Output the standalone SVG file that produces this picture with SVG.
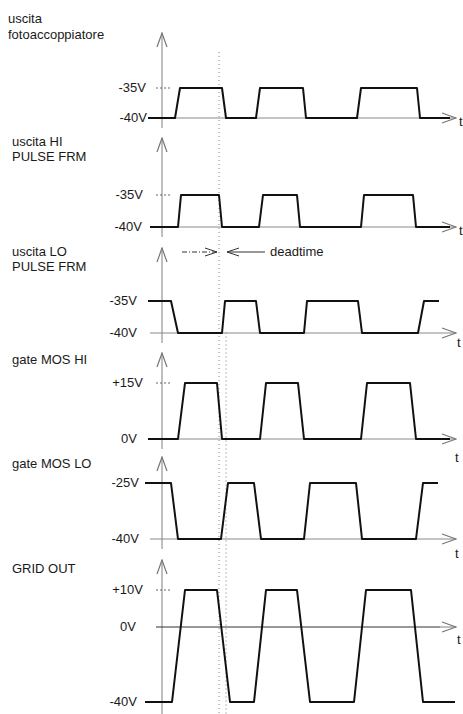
<svg xmlns="http://www.w3.org/2000/svg" width="463" height="714" viewBox="0 0 463 714">
<style>
text{font-family:"Liberation Sans",Arial,sans-serif;font-size:13px;fill:#1a1a1a}
.v{text-anchor:end}
.ax{fill:none;stroke:#8a8a8a;stroke-width:1.1}
.ax0{fill:none;stroke:#333;stroke-width:1.2}
.tk{fill:none;stroke:#666;stroke-width:1;stroke-dasharray:2,2}
.w{fill:none;stroke:#111;stroke-width:2;stroke-linejoin:round}
.dl{fill:none;stroke:#888;stroke-width:1;stroke-dasharray:1,3}
.dl2{fill:none;stroke:#bbb;stroke-width:1;stroke-dasharray:2,2}
</style>
<defs>
<marker id="ah" viewBox="0 0 16 12" refX="15" refY="6" markerWidth="16" markerHeight="12" markerUnits="userSpaceOnUse" orient="auto">
<path d="M1,1 L15,6 L1,11" fill="none" stroke="#777" stroke-width="1.2"/>
</marker>
<marker id="ad" viewBox="0 0 14 10" refX="13" refY="5" markerWidth="14" markerHeight="10" markerUnits="userSpaceOnUse" orient="auto">
<path d="M1,1 L13,5 L1,9" fill="none" stroke="#333" stroke-width="1"/>
</marker>
</defs>
<rect width="463" height="714" fill="#fff"/>
<g id="guides">
<line class="dl" x1="219" y1="52" x2="219" y2="714"/>
<line class="dl2" x1="226" y1="332" x2="226" y2="714"/>
</g>
<g id="connectors">
<line x1="182" y1="252" x2="217" y2="252" stroke="#333" stroke-width="1" stroke-dasharray="5,2,1,2" marker-end="url(#ad)"/>
<line x1="265" y1="252" x2="227" y2="252" stroke="#333" stroke-width="1" marker-end="url(#ad)"/>
<text x="270" y="256">deadtime</text>
</g>
<g id="p1">
<text x="8" y="23">uscita</text>
<text x="8" y="39">fotoaccoppiatore</text>
<line class="ax" x1="162" y1="128" x2="162" y2="33" marker-end="url(#ah)"/>
<line class="ax" x1="150" y1="118" x2="456" y2="118" marker-end="url(#ah)"/>
<line class="tk" x1="156" y1="88" x2="170" y2="88"/>
<text class="v" x="146" y="92">-35V</text>
<text class="v" x="147" y="122">-40V</text>
<text x="459" y="126">t</text>
<polyline class="w" points="148,118 175,118 180,88 222,88 226,118 256,118 260,88 303,88 306,118 357,118 361,88 417,88 420,118 450,118"/>
</g>
<g id="p2">
<text x="12" y="146">uscita HI</text>
<text x="12" y="161">PULSE FRM</text>
<line class="ax" x1="162" y1="237" x2="162" y2="138" marker-end="url(#ah)"/>
<line class="ax" x1="150" y1="227" x2="456" y2="227" marker-end="url(#ah)"/>
<line class="tk" x1="156" y1="195" x2="170" y2="195"/>
<text class="v" x="143" y="199">-35V</text>
<text class="v" x="142" y="231">-40V</text>
<text x="459" y="235">t</text>
<polyline class="w" points="150,227 178,227 181,195 219,195 222,227 259,227 263,195 297,195 300,227 361,227 364,195 413,195 416,227 450,227"/>
</g>
<g id="p3">
<text x="12" y="256">uscita LO</text>
<text x="12" y="271">PULSE FRM</text>
<line class="ax" x1="162" y1="343" x2="162" y2="248" marker-end="url(#ah)"/>
<line class="ax" x1="150" y1="333" x2="456" y2="333" marker-end="url(#ah)"/>
<text class="v" x="137" y="305">-35V</text>
<text class="v" x="137" y="337">-40V</text>
<text x="457" y="347">t</text>
<polyline class="w" points="148,301 171,301 178,333 222,333 225,301 256,301 260,333 304,333 307,301 358,301 362,333 418,333 424,301 439,301"/>
</g>
<g id="p4">
<text x="12" y="364">gate MOS HI</text>
<line class="ax" x1="162" y1="449" x2="162" y2="353" marker-end="url(#ah)"/>
<line class="ax" x1="150" y1="439" x2="456" y2="439" marker-end="url(#ah)"/>
<line class="tk" x1="156" y1="383" x2="170" y2="383"/>
<text class="v" x="143" y="387">+15V</text>
<text class="v" x="137" y="443">0V</text>
<text x="455" y="462">t</text>
<polyline class="w" points="148,439 178,439 185,383 217,383 222,439 260,439 266,383 298,383 304,439 361,439 367,383 410,383 416,439 450,439"/>
</g>
<g id="p5">
<text x="12" y="468">gate MOS LO</text>
<line class="ax" x1="162" y1="549" x2="162" y2="457" marker-end="url(#ah)"/>
<line class="ax" x1="150" y1="539" x2="456" y2="539" marker-end="url(#ah)"/>
<text class="v" x="139" y="487">-25V</text>
<text class="v" x="139" y="543">-40V</text>
<text x="455" y="558">t</text>
<polyline class="w" points="145,483 171,483 178,539 221,539 228,483 254,483 261,539 304,539 310,483 356,483 362,539 416,539 423,483 438,483"/>
</g>
<g id="p6">
<text x="12" y="573">GRID OUT</text>
<line class="ax" x1="162" y1="714" x2="162" y2="560" marker-end="url(#ah)"/>
<line class="ax0" x1="156" y1="627" x2="440" y2="627"/>
<line class="ax" x1="440" y1="627" x2="456" y2="627" marker-end="url(#ah)"/>
<line class="tk" x1="156" y1="590" x2="170" y2="590"/>
<text class="v" x="143" y="594">+10V</text>
<text class="v" x="136" y="631">0V</text>
<text class="v" x="137" y="706">-40V</text>
<text x="457" y="644">t</text>
<polyline class="w" points="145,702 172,702 185,590 217,590 230,702 254,702 266,590 297,590 310,702 354,702 366,590 411,590 423,702 455,702"/>
</g>
</svg>
